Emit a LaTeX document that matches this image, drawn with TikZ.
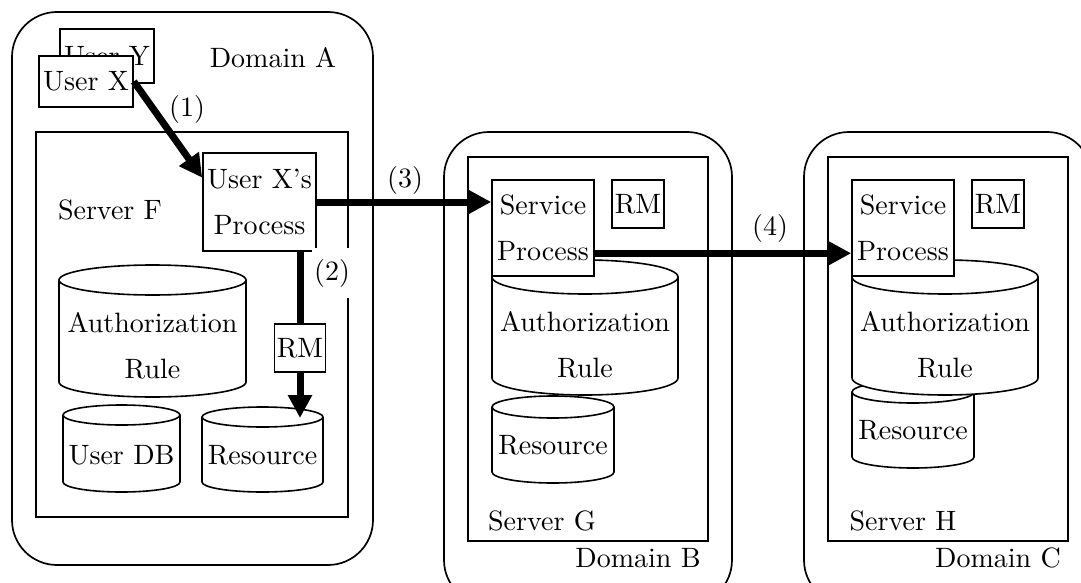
\documentclass[tikz,border=0pt]{standalone}
\usepackage{fontspec}
\setmainfont{lmroman10-regular.otf}
\usetikzlibrary{arrows.meta}

\tikzset{
  every node/.style={font=\fontsize{28}{46}\selectfont, inner sep=0pt},
  frame/.style={line width=1.7pt},
  domainframe/.style={frame, rounded corners=45pt},
  boxnode/.style={draw, line width=1.6pt, fill=white, align=center, inner sep=0pt},
  cyl/.style={line width=1.6pt, fill=white},
  flow/.style={line width=7pt, -{Triangle[length=23pt,width=23pt]}},
  flowplain/.style={line width=7pt},
}

% database cylinder: name, left, top, right, bottom, cap radius, text centre y, text
\newcommand\dbcyl[8]{%
  \pgfmathsetmacro\cylrx{(#4-#2)/2}
  \filldraw[cyl] (#2,-#3-#6) -- (#2,-#5+#6)
     arc[start angle=180,end angle=360,x radius=\cylrx pt,y radius=#6pt]
     -- (#4,-#3-#6)
     arc[start angle=0,end angle=180,x radius=\cylrx pt,y radius=#6pt] -- cycle;
  \draw[cyl] (#2,-#3-#6) arc[start angle=180,end angle=360,x radius=\cylrx pt,y radius=#6pt];
  \node[align=center] (#1) at ({(#2+#4)/2},-#7) {#8};
}

\begin{document}
\begin{tikzpicture}[x=1pt,y=1pt]
\clip (0,0) rectangle (1081,-583);

% domains and servers
\draw[domainframe] (12,-12) rectangle (373,-565);
\draw[domainframe] (444,-132) rectangle (732,-605);
\draw[domainframe] (804,-132) rectangle (1092,-605);
\draw[frame] (36,-132) rectangle (348,-517);
\draw[frame] (468,-157) rectangle (708,-541);
\draw[frame] (828,-157) rectangle (1068,-541);

\node (domA) at (273,-58) {Domain A};
\node (srvF) at (110,-210) {Server F};
\node (srvG) at (542,-521) {Server G};
\node (domB) at (638,-558) {Domain B};
\node (srvH) at (903,-521) {Server H};
\node (domC) at (998,-558) {Domain C};

% users
\node[boxnode, minimum width=94pt, minimum height=54pt] (userY) at (107,-56) {User Y};
\node[boxnode, minimum width=94pt, minimum height=51pt] (userX) at (86,-81.5) {User X};

% Server F
\dbcyl{authF}{59}{265}{246}{397}{15}{346}{Authorization\\Rule}
\dbcyl{dbF}{63}{405}{180}{492}{10}{455}{User DB}
\dbcyl{resF}{202}{407}{323}{492}{10}{455}{Resource}
\coordinate (resFtop) at (300,-418);
\node[boxnode, minimum width=113pt, minimum height=98pt] (procF) at (259.5,-202) {User X’s\\Process};
\node[boxnode, minimum width=51pt, minimum height=48pt] (rmF) at (300,-348) {RM};
\node[fill=white, minimum height=50pt, inner xsep=2pt] (lab2) at (332,-273) {(2)};

% Server G
\dbcyl{resG}{492}{396}{614}{483}{11}{445}{Resource}
\dbcyl{authG}{492}{260}{678}{395}{17}{345}{Authorization\\Rule}
\node[boxnode, minimum width=102pt, minimum height=96pt] (procG) at (543,-228) {Service\\Process};
\node[boxnode, minimum width=52pt, minimum height=48pt] (rmG) at (638,-204) {RM};

% Server H
\dbcyl{resH}{852}{381}{974}{468}{11}{430}{Resource}
\dbcyl{authH}{852}{260}{1038}{395}{17}{345}{Authorization\\Rule}
\node[boxnode, minimum width=102pt, minimum height=96pt] (procH) at (903,-228) {Service\\Process};
\node[boxnode, minimum width=52pt, minimum height=48pt] (rmH) at (998,-204) {RM};

% request flow
\draw[flow] (userX.east) -- (procF.157);
\node (lab1) at (187,-110) {(1)};
\draw[flowplain] (procF.south -| rmF.north) -- (rmF.north);
\draw[flow] (rmF.south) -- (resFtop);
\draw[flow] (procF.east) -- (procF.east -| procG.west);
\node (lab3) at (405,-180) {(3)};
\coordinate (outG) at (procG.-26);
\draw[flow] (outG) -- (outG -| procH.west);
\node (lab4) at (770,-228) {(4)};
\end{tikzpicture}
\end{document}
